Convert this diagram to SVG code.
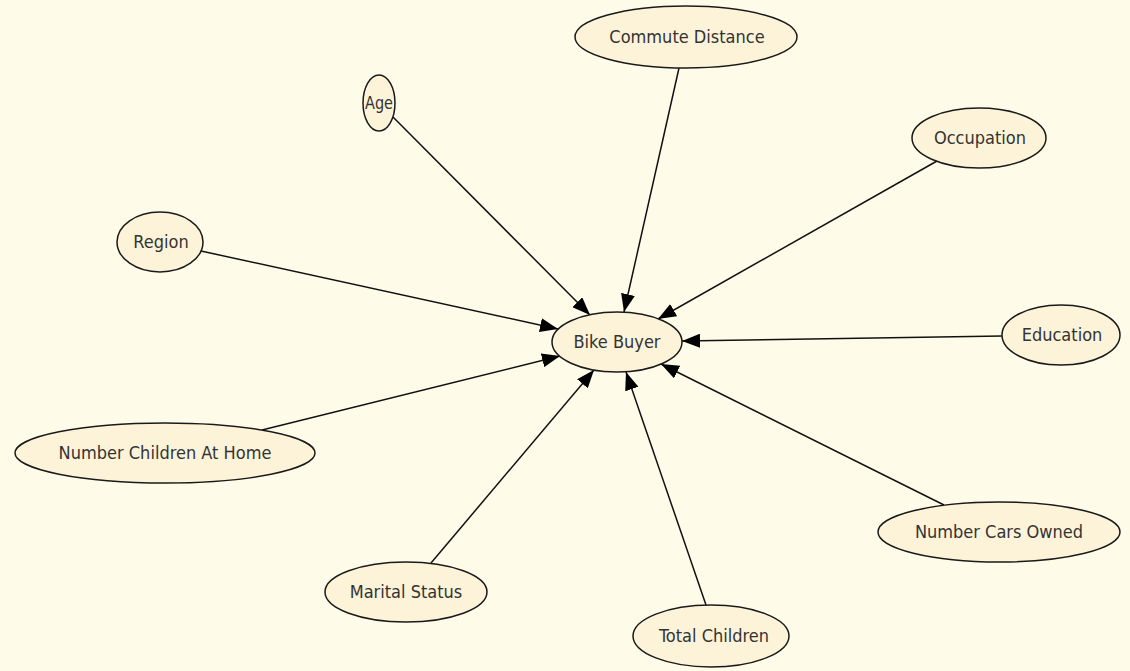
<svg xmlns="http://www.w3.org/2000/svg" width="1130" height="671" viewBox="0 0 1130 671">
  <defs>
    <style>
      .node ellipse { fill: #fcf3d9; stroke: #1a1a1a; stroke-width: 1.5; }
      .node text { font-family: "DejaVu Sans Condensed", "DejaVu Sans", sans-serif; font-size: 18px; fill: #333333; text-anchor: middle; }
      .edge { stroke: #111111; stroke-width: 1.5; fill: none; marker-end: url(#arrow); }
    </style>
    <marker id="arrow" viewBox="0 0 18 14" refX="18" refY="7" markerWidth="18" markerHeight="14" markerUnits="userSpaceOnUse" orient="auto">
      <path d="M0,0 L18,7 L0,14 z" fill="#000000"/>
    </marker>
  </defs>

  <rect x="0" y="0" width="1130" height="671" fill="#fffbe9"/>

  <!-- dependency arrows into the target attribute -->
  <g id="connectors">
    <line class="edge" x1="679" y1="68" x2="624" y2="312"/>
    <line class="edge" x1="393" y1="117" x2="590" y2="315"/>
    <line class="edge" x1="937" y1="161" x2="658" y2="319"/>
    <line class="edge" x1="201" y1="251" x2="558" y2="329"/>
    <line class="edge" x1="1002" y1="336" x2="682" y2="341"/>
    <line class="edge" x1="262" y1="430" x2="560" y2="356"/>
    <line class="edge" x1="944" y1="505" x2="661" y2="364"/>
    <line class="edge" x1="431" y1="563" x2="594" y2="370"/>
    <line class="edge" x1="706" y1="605" x2="626" y2="372"/>
  </g>

  <g id="bike-buyer" class="node">
    <ellipse cx="617" cy="342" rx="65" ry="30"/>
    <text x="617" y="348">Bike Buyer</text>
  </g>
  <g id="commute-distance" class="node">
    <ellipse cx="686" cy="37" rx="111" ry="31"/>
    <text x="687" y="43">Commute Distance</text>
  </g>
  <g id="age" class="node">
    <ellipse cx="379" cy="103" rx="16" ry="28"/>
    <text x="379" y="109" textLength="28" lengthAdjust="spacingAndGlyphs">Age</text>
  </g>
  <g id="occupation" class="node">
    <ellipse cx="979" cy="138" rx="67" ry="30"/>
    <text x="980" y="144">Occupation</text>
  </g>
  <g id="region" class="node">
    <ellipse cx="160" cy="242" rx="43" ry="30"/>
    <text x="161" y="248">Region</text>
  </g>
  <g id="education" class="node">
    <ellipse cx="1061" cy="335" rx="59" ry="30"/>
    <text x="1062" y="341">Education</text>
  </g>
  <g id="number-children-at-home" class="node">
    <ellipse cx="165" cy="453" rx="150" ry="30"/>
    <text x="165" y="459">Number Children At Home</text>
  </g>
  <g id="number-cars-owned" class="node">
    <ellipse cx="999" cy="532" rx="121" ry="30"/>
    <text x="999" y="538">Number Cars Owned</text>
  </g>
  <g id="marital-status" class="node">
    <ellipse cx="406" cy="592" rx="81" ry="30"/>
    <text x="406" y="598">Marital Status</text>
  </g>
  <g id="total-children" class="node">
    <ellipse cx="711" cy="636" rx="78" ry="31"/>
    <text x="714" y="642">Total Children</text>
  </g>
</svg>
